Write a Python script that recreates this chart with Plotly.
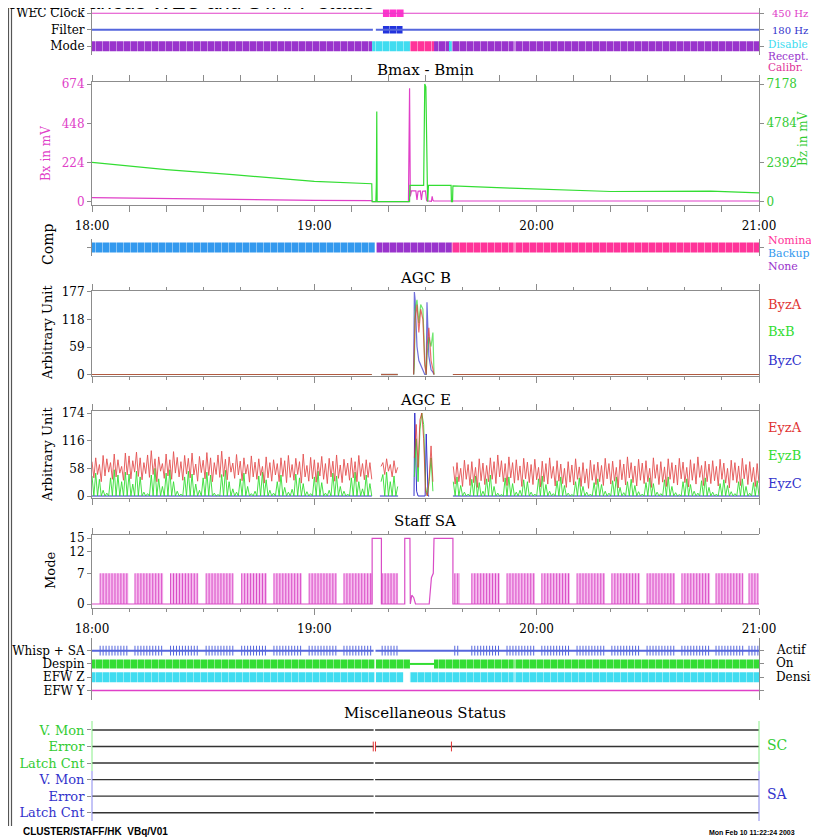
import plotly.graph_objects as go

W, H = 819, 840          # browser window
OFF = 8                  # page body margin
FW, FH = W - OFF, H - OFF
SERIF = "DejaVu Serif"
SANS = "Liberation Sans"

# ---------------- data (time in minutes after 18:00) ----------------
HOUR_TICKS = [0, 60, 120, 180]
HOUR_LABELS = ["18:00", "19:00", "20:00", "21:00"]

# WEC status
WEC_ROWS = ["Mode", "Filter", "WEC Clock"]
WEC_CLOCK_THIN = [(0, 180)]
WEC_CLOCK_450 = [(78.5, 84.2)]
FILTER_THIN = [(0, 75.8), (76.6, 180)]
FILTER_180 = [(78.5, 83.8)]
MODE_RECEPT = [(0, 75.6), (92.3, 96.6), (97.1, 113.8), (114.0, 180)]
MODE_DISABLE = [(75.6, 85.8), (96.6, 97.1)]
MODE_CALIBR = [(85.8, 92.3)]

# Bmax - Bmin
BX_T = [0, 20, 40, 60, 75.5, 75.7, 85.4, 85.7, 85.9, 86.2, 87.4, 87.7, 88.0, 88.6, 88.9, 89.2, 90.0, 90.3, 91.6, 91.8, 92.0, 92.2, 130, 180]
BX_V = [23, 17, 12, 8, 6, 0, 0, 650, 30, 62, 62, 10, 60, 62, 10, 60, 62, 5, 2, 30, 8, 4, 4, 4]
BZ_T = [0, 20, 38, 60, 75.5, 75.6, 76.6, 76.75, 76.85, 76.95, 85.7, 85.8, 89.5, 89.8, 90.1, 90.3, 90.5, 90.6, 90.8,
        96.9, 97.0, 97.3, 97.4, 113, 140, 167, 180]
BZ_V = [2395, 1960, 1650, 1240, 1095, 0, 0, 1200, 5500, 0, 0, 990, 990, 7178, 7000, 990, 990, 0, 990,
        990, 0, 0, 970, 823, 620, 640, 540]

# Comp
COMP_BACKUP = [(0, 76.3)]
COMP_NONE = [(76.8, 97.1)]
COMP_NOMINAL = [(97.1, 113.8), (114.0, 180)]

# AGC B
AGCB_T = [0, 75.5, 76.0, 78.0, 82.5, 83.0, 86.8, 87.0, 87.2, 87.7, 88.2, 88.7, 89.3, 89.8, 90.2, 90.4, 90.9, 91.5, 92.0, 92.3, 95.0, 97.4, 180]
BYZA = [0, 0, None, 0, 0, None, 0, 40, 120, 150, 90, 140, 118, 20, 0, 60, 100, 30, 10, 0, None, 0, 0]
BXB = [0, 0, None, 0, 0, None, 0, 20, 140, 160, 110, 150, 140, 30, 0, 40, 80, 60, 90, 0, None, 0, 0]
BYZC = [0, 0, None, 0, 0, None, 0, 177, 160, 60, 30, 20, 10, 0, 0, 155, 40, 10, 5, 0, None, 0, 0]

# AGC E (samples every 0.5 min)
EYZA = ([72, 38, 80, 45, 66, 30, 85, 42, 78, 50, 70, 35, 88, 40, 76, 48, 62, 33, 90, 44,
         84, 36, 74, 50, 92, 41, 80, 34, 70, 47, 86, 39, 95, 45, 78, 30, 82, 52, 68, 37,
         88, 42, 76, 35, 93, 48, 81, 40, 72, 33, 85, 46, 79, 38, 90, 44, 67, 31, 83, 49,
         75, 36, 91, 43, 80, 30, 70, 45, 86, 39, 94, 41, 77, 34, 82, 50, 69, 37, 87, 44,
         73, 32, 80, 46, 66, 29, 84, 40, 71, 35, 78, 43, 62, 27, 82, 38, 70, 31, 76, 44,
         68, 30, 80, 41, 74, 28, 85, 39, 66, 33, 79, 45, 72, 27, 88, 40, 64, 31, 81, 36,
         76, 29, 70, 42, 83, 35, 68, 26, 79, 40, 73, 31, 86, 37, 65, 28, 77, 43, 69, 33,
         80, 38, 72, 30, 85, 41, 68, 34, 76, 39, 70, 35]
        + [None] * 4 + [62]
        + [70, 45, 78, 52, 66, 40, 74, 48, 60, None, None]
        + [None] * 6 + [80, 150, 60, 160, 174, 120, 10, 0, 40, 105, 30]
        + [None] * 10
        + [62, 25, 70, 30, 58, 20, 75, 35, 66, 22, 72, 28, 60, 18, 78, 32, 69, 24, 64, 30,
           80, 35, 72, 26, 86, 40, 74, 30, 68, 22, 82, 38, 70, 27, 76, 33, 63, 20, 79, 36,
           71, 28, 66, 24, 77, 34, 60, 19, 73, 30, 68, 25, 80, 37, 62, 21, 74, 31, 67, 26,
           58, 18, 72, 29, 65, 23, 78, 35, 61, 20, 70, 27, 57, 16, 75, 33, 66, 24, 71, 30,
           64, 22, 79, 36, 68, 25, 73, 31, 60, 17, 76, 34, 67, 23, 82, 38, 70, 28, 63, 21,
           77, 33, 69, 26, 74, 30, 58, 18, 80, 37, 66, 24, 72, 29, 61, 20, 78, 35, 70, 27,
           65, 23, 79, 36, 71, 28, 60, 19, 76, 33, 68, 25, 82, 39, 64, 22, 73, 30, 67, 26,
           74, 32, 62, 21, 77, 35, 69, 27, 58, 17, 75, 33, 70, 28, 63, 22, 79, 36, 66, 24,
           72, 30, 60, 20, 68, 27])
EYZB = ([42, 0, 48, 0, 35, 0, 12, 0, 6, 0, 38, 0, 55, 0, 44, 0, 30, 0, 50, 0,
         46, 0, 25, 0, 52, 0, 40, 0, 8, 0, 5, 0, 44, 0, 58, 0, 36, 0, 20, 0,
         48, 0, 55, 0, 30, 0, 10, 0, 4, 0, 40, 0, 52, 0, 46, 0, 25, 0, 12, 0,
         38, 0, 50, 0, 44, 0, 6, 0, 3, 0, 45, 0, 54, 0, 30, 0, 15, 0, 8, 0,
         36, 0, 48, 0, 20, 0, 5, 0, 10, 0, 42, 0, 50, 0, 34, 0, 12, 0, 6, 0,
         30, 0, 44, 0, 18, 0, 8, 0, 14, 0, 46, 0, 38, 0, 26, 0, 9, 0, 5, 0,
         40, 0, 52, 0, 28, 0, 6, 0, 12, 0, 48, 0, 42, 0, 20, 0, 10, 0, 4, 0,
         38, 0, 50, 0, 30, 0, 15, 0, 44, 0, 26, 0]
        + [None] * 4 + [30]
        + [45, 0, 50, 0, 30, 0, 42, 0, 20, None, None]
        + [None] * 6 + [40, 120, 30, 140, 174, 150, 20, 0, 30, 80, 10]
        + [None] * 10
        + [30, 0, 40, 0, 22, 0, 8, 0, 4, 0, 35, 0, 42, 0, 28, 0, 10, 0, 36, 0,
           44, 0, 20, 0, 6, 0, 3, 0, 38, 0, 40, 0, 26, 0, 8, 0, 12, 0, 34, 0,
           30, 0, 8, 0, 4, 0, 36, 0, 42, 0, 24, 0, 10, 0, 5, 0, 32, 0, 40, 0,
           22, 0, 6, 0, 3, 0, 30, 0, 38, 0, 20, 0, 8, 0, 4, 0, 28, 0, 36, 0,
           24, 0, 10, 0, 6, 0, 32, 0, 40, 0, 18, 0, 7, 0, 30, 0, 35, 0, 22, 0,
           9, 0, 4, 0, 28, 0, 38, 0, 26, 0, 8, 0, 5, 0, 34, 0, 40, 0, 20, 0,
           7, 0, 3, 0, 30, 0, 36, 0, 24, 0, 10, 0, 6, 0, 32, 0, 38, 0, 18, 0,
           8, 0, 4, 0, 26, 0, 34, 0, 22, 0, 9, 0, 5, 0, 30, 0, 36, 0, 20, 0,
           6, 0, 28, 0, 32, 0])
EYZ_STEP = 0.5
EYZC_T = [0, 75.5, 76, 77.7, 82.6, 83, 86.9, 87.1, 87.6, 88.0, 89.9, 90.2, 90.7, 91, 92.8, 97.4, 180]
EYZC_V = [0, 0, None, 0, 0, None, 0, 174, 10, 0, 0, 130, 0, 0, None, 0, 0]

# Staff SA mode
SA_T = [0, 75.6, 75.6, 78.1, 78.1, 84.4, 84.4, 85.8, 85.9, 86.3, 86.8, 87.3, 87.7, 91.0, 91.6, 92.1, 92.3, 97.4, 97.4, 180]
SA_V = [0, 0, 15, 15, 0, 0, 15, 15, 0, 2, 1.5, 0, 0, 0, 6, 7, 15, 15, 0, 0]
SA_BURSTS = [(2.2, 9.8), (11.6, 19.2), (21.2, 28.7), (30.8, 38.1), (40.4, 47.2), (49.1, 56.6),
             (58.6, 66.0), (68.0, 75.6), (78.3, 82.6), (97.9, 99.3), (102.5, 110.1), (112.0, 119.5),
             (121.4, 129.0), (130.9, 138.4), (140.3, 147.9), (149.8, 157.3), (159.2, 166.8),
             (168.4, 175.7), (177.3, 179.8)]
SA_BURST_LEVEL = 7

# Status rows
STATUS_ROWS = ["EFW Y", "EFW Z", "Despin", "Whisp + SA"]
WHISP_LINE = [(0, 76.0), (76.5, 180)]
DESPIN_ON = [(0, 76.2), (76.6, 85.8), (92.3, 113.8), (114.0, 180)]
DESPIN_OFF = [(85.8, 92.3)]
EFWZ_DENSITY = [(0, 76.2), (76.6, 84.0), (85.8, 113.8), (114.0, 180)]
EFWY_LINE = [(0, 180)]

# Miscellaneous status
MISC_ROWS = ["Latch Cnt", "Error", "V. Mon", "Latch Cnt", "Error", "V. Mon"]
MISC_LINES = [(0, 76.0), (76.4, 180)]
SC_ERROR_T = [75.9, 76.5, 97.0]

# ---------------- colours ----------------
MAGENTA = "#e040c8"
PINK = "#ff3399"
PURPLE = "#9933cc"
CYAN = "#40dcf0"
SKY = "#3399ee"
GREEN = "#33dd33"
RED = "#e03333"
BLUE = "#3333cc"
FBLUE = "#5566dd"
AXC = "#8c8c8c"

def fx(p):
    return (p - OFF) / FW

def fy(p):
    return 1 - (p - OFF) / FH

def yd(top, bottom):
    return [max(0.0, fy(bottom)), min(1.0, fy(top))]

XDOM = [fx(92), fx(759)]

fig = go.Figure()

def seg_xy(segs, yval):
    xs, ys = [], []
    for s, e in segs:
        xs += [s, e, None]
        ys += [yval, yval, None]
    return xs, ys

def add_line_segs(segs, yval, color, width, xa, ya):
    xs, ys = seg_xy(segs, yval)
    fig.add_trace(go.Scatter(x=xs, y=ys, mode="lines", line=dict(color=color, width=width),
                             xaxis=xa, yaxis=ya, hoverinfo="skip", showlegend=False))

def add_bars(segs, yval, color, thick, xa, ya):
    fig.add_trace(go.Bar(
        y=[yval] * len(segs), x=[e - s for s, e in segs], base=[s for s, e in segs],
        orientation="h", width=[thick] * len(segs),
        marker=dict(color=color, line_width=0,
                    pattern=dict(shape="|", fgcolor="white", fillmode="overlay", size=7, solidity=0.12)),
        xaxis=xa, yaxis=ya, hoverinfo="skip", showlegend=False))

# --- WEC rows (x / y) ---
add_line_segs(WEC_CLOCK_THIN, 3, MAGENTA, 1.2, "x", "y")
add_bars(WEC_CLOCK_450, 3, "#ff33cc", 0.45, "x", "y")
add_line_segs(FILTER_THIN, 2, FBLUE, 2, "x", "y")
add_bars(FILTER_180, 2, "#2233dd", 0.45, "x", "y")
add_bars(MODE_RECEPT, 1, PURPLE, 0.6, "x", "y")
add_bars(MODE_DISABLE, 1, CYAN, 0.6, "x", "y")
add_bars(MODE_CALIBR, 1, PINK, 0.6, "x", "y")

# --- Bmax - Bmin (x2 / y2, y3) ---
fig.add_trace(go.Scatter(x=BZ_T, y=BZ_V, mode="lines", line=dict(color=GREEN, width=1.2),
                         xaxis="x2", yaxis="y3", hoverinfo="skip", showlegend=False))
fig.add_trace(go.Scatter(x=BX_T, y=BX_V, mode="lines", line=dict(color=MAGENTA, width=1.2),
                         xaxis="x2", yaxis="y2", hoverinfo="skip", showlegend=False))

# --- Comp (x4 / y4) ---
add_bars(COMP_BACKUP, 1, SKY, 0.6, "x4", "y4")
add_bars(COMP_NONE, 1, PURPLE, 0.6, "x4", "y4")
add_bars(COMP_NOMINAL, 1, PINK, 0.6, "x4", "y4")

# --- AGC B (x5 / y5) ---
for vals, col in [(BYZC, BLUE), (BXB, GREEN), (BYZA, RED)]:
    fig.add_trace(go.Scatter(x=AGCB_T, y=vals, mode="lines", line=dict(color=col, width=1.2), opacity=0.7,
                             xaxis="x5", yaxis="y5", hoverinfo="skip", showlegend=False, connectgaps=False))

# --- AGC E (x6 / y6) ---
eyz_t = [i * EYZ_STEP for i in range(len(EYZA))]
fig.add_trace(go.Scatter(x=EYZC_T, y=EYZC_V, mode="lines", line=dict(color=BLUE, width=1),
                         xaxis="x6", yaxis="y6", hoverinfo="skip", showlegend=False))
fig.add_trace(go.Scatter(x=eyz_t, y=EYZB, mode="lines", line=dict(color=GREEN, width=0.9),
                         xaxis="x6", yaxis="y6", hoverinfo="skip", showlegend=False))
fig.add_trace(go.Scatter(x=eyz_t, y=EYZA, mode="lines", line=dict(color=RED, width=0.9), opacity=0.85,
                         xaxis="x6", yaxis="y6", hoverinfo="skip", showlegend=False))

# --- Staff SA (x7 / y7, y8) ---
px_, py_ = [], []
lx, ly = [], []
tick_t = []
for s, e in SA_BURSTS:
    px_ += [s, s, e, e, None]
    py_ += [0, SA_BURST_LEVEL, SA_BURST_LEVEL, 0, None]
    t = s
    while t <= e + 1e-9:
        lx += [t, t, None]
        ly += [0, SA_BURST_LEVEL, None]
        tick_t.append(t)
        t += 0.8
fig.add_trace(go.Scatter(x=px_, y=py_, mode="lines", fill="toself", fillcolor="#f6bdef",
                         line=dict(width=0, color="#f6bdef"),
                         xaxis="x7", yaxis="y7", hoverinfo="skip", showlegend=False))
fig.add_trace(go.Scatter(x=lx, y=ly, mode="lines", line=dict(color="#d94cc6", width=1),
                         xaxis="x7", yaxis="y7", hoverinfo="skip", showlegend=False))
fig.add_trace(go.Scatter(x=SA_T, y=SA_V, mode="lines", line=dict(color="#d94cc6", width=1.2),
                         xaxis="x7", yaxis="y7", hoverinfo="skip", showlegend=False))

# --- Status rows (x9 / y9) ---
add_line_segs(WHISP_LINE, 4, FBLUE, 2, "x9", "y9")
fig.add_trace(go.Scatter(x=tick_t, y=[4] * len(tick_t), mode="markers",
                         marker=dict(symbol="line-ns", size=7, line=dict(color=FBLUE, width=1)),
                         xaxis="x9", yaxis="y9", hoverinfo="skip", showlegend=False))
add_line_segs(DESPIN_OFF, 3, GREEN, 2, "x9", "y9")
add_bars(DESPIN_ON, 3, GREEN, 0.68, "x9", "y9")
add_bars(EFWZ_DENSITY, 2, CYAN, 0.75, "x9", "y9")
add_line_segs(EFWY_LINE, 1, MAGENTA, 1.5, "x9", "y9")

# --- Misc (x10 / y10) ---
for r in range(1, 7):
    add_line_segs(MISC_LINES, r, "#333333", 1.4, "x10", "y10")
fig.add_trace(go.Scatter(x=SC_ERROR_T, y=[5] * len(SC_ERROR_T), mode="markers",
                         marker=dict(symbol="line-ns", size=7, line=dict(color=RED, width=1)),
                         xaxis="x10", yaxis="y10", hoverinfo="skip", showlegend=False))

# ---------------- axes ----------------
tickfont = dict(family=SERIF, size=12, color="black")
minor = dict(tickmode="linear", tick0=0, dtick=10, ticks="outside", ticklen=3, tickcolor=AXC)

def hidden_x(anchor):
    return dict(domain=XDOM, range=[0, 180], visible=False, anchor=anchor, automargin=False)

def time_x(anchor, labels):
    return dict(domain=XDOM, range=[0, 180], anchor=anchor, showline=True, linecolor=AXC, mirror="allticks",
                ticks="outside", ticklen=6, tickcolor=AXC, tickmode="array", tickvals=HOUR_TICKS,
                ticktext=HOUR_LABELS, showticklabels=labels, tickfont=tickfont, ticklabelstandoff=4,
                minor=minor, showgrid=False, zeroline=False, automargin=False, ticklabeloverflow="allow")

def row_y(dom, rng, vals, texts, anchor, size=12):
    return dict(domain=dom, range=rng, anchor=anchor, tickmode="array", tickvals=vals, ticktext=texts,
                showline=True, linecolor=AXC, mirror="ticks", ticks="outside", ticklen=4, tickcolor=AXC,
                tickfont=dict(family=SERIF, size=size, color="black"), showgrid=False, zeroline=False,
                fixedrange=True, automargin=False, ticklabeloverflow="allow")

def val_y(dom, rng, vals, anchor, color="black", side="left", overlaying=None):
    d = dict(domain=dom, range=rng, anchor=anchor, tickmode="array", tickvals=vals,
             showline=True, linecolor=AXC, ticks="outside", ticklen=4, tickcolor=AXC, side=side,
             tickfont=dict(family=SERIF, size=12, color=color), showgrid=False, zeroline=False,
             automargin=False, ticklabeloverflow="allow")
    if overlaying:
        d["overlaying"] = overlaying
    return d

fig.update_layout(
    width=FW, height=FH, margin=dict(l=0, r=0, t=0, b=0, autoexpand=False),
    paper_bgcolor="white", plot_bgcolor="white", showlegend=False, barmode="overlay",
    xaxis=hidden_x("y"),
    yaxis=row_y(yd(8, 54.5), [0.5, 3.318], [1, 2, 3], WEC_ROWS, "x"),
    xaxis2=time_x("y2", True),
    yaxis2=val_y(yd(82, 205), [-19, 686], [0, 224, 448, 674], "x2", color=MAGENTA),
    yaxis3=val_y(yd(82, 205), [-202, 7300], [0, 2392, 4784, 7178], "x2", color="#33cc33", side="right",
                 overlaying="y2"),
    xaxis4=hidden_x("y4"),
    yaxis4=row_y(yd(239, 256), [0.5, 1.5], [1], [""], "x4"),
    xaxis5=time_x("y5", False),
    yaxis5=dict(val_y(yd(291, 376), [-3.2, 179.1], [0, 59, 118, 177], "x5"), mirror=True),
    xaxis6=time_x("y6", False),
    yaxis6=dict(val_y(yd(411, 498), [-4.2, 178.2], [0, 58, 116, 174], "x6"), mirror=True),
    xaxis7=time_x("y7", True),
    yaxis7=val_y(yd(535, 608), [-0.91, 15.75], [0, 7, 12, 15], "x7"),
    yaxis8=val_y(yd(535, 608), [-0.91, 15.75], [0, 7, 12, 15], "x7", side="right", overlaying="y7"),
    xaxis9=hidden_x("y9"),
    yaxis9=row_y(yd(638, 700), [0.29, 4.95], [1, 2, 3, 4], STATUS_ROWS, "x9", size=12),
    xaxis10=hidden_x("y10"),
    yaxis10=dict(row_y(yd(721, 821), [0.5, 6.54], [1, 2, 3, 4, 5, 6],
                       ['<span style="color:%s">%s</span>' % (BLUE if i < 3 else "#33cc33", t)
                        for i, t in enumerate(MISC_ROWS)], "x10", size=13),
                 showline=False, mirror=False),
)

# ---------------- annotations ----------------
def ann(text, x, y, size=12, color="black", xanchor="left", angle=0, family=SERIF, yanchor="middle"):
    return dict(text=text, x=fx(x), y=fy(y), xref="paper", yref="paper", showarrow=False,
                font=dict(family=family, size=size, color=color), xanchor=xanchor, yanchor=yanchor,
                textangle=angle, borderpad=0)

anns = [
    ann("and 10 various WEC and STAFF status", 7, 14, size=21, family=SANS, yanchor="bottom"),
    ann("450 Hz", 771, 13, size=10, color=MAGENTA),
    ann("180 Hz", 771, 30, size=10, color=BLUE),
    ann("Disable", 767, 44, size=10.5, color=CYAN),
    ann("Recept.", 767, 56, size=10.5, color=PURPLE),
    ann("Calibr.", 767, 67, size=10.5, color="#e03399"),
    ann("Bmax - Bmin", 425, 70, size=15, xanchor="center"),
    ann("Bx in mV", 46, 154, size=12, color=MAGENTA, xanchor="center", angle=-90),
    ann("Bz in mV", 803, 139, size=12, color="#33cc33", xanchor="center", angle=-90),
    ann("Comp", 48, 245, size=14, xanchor="center", angle=-90),
    ann("Nomina", 767, 240, size=11, color=PINK),
    ann("Backup", 767, 253, size=11, color=SKY),
    ann("None", 767, 266, size=11, color=PURPLE),
    ann("AGC B", 425, 278, size=15, xanchor="center"),
    ann("Arbitrary Unit", 47, 333, size=13, xanchor="center", angle=-90),
    ann("ByzA", 767, 304, size=13, color=RED),
    ann("BxB", 767, 332, size=13, color=GREEN),
    ann("ByzC", 767, 360, size=13, color=BLUE),
    ann("AGC E", 425, 400, size=15, xanchor="center"),
    ann("Arbitrary Unit", 47, 455, size=13, xanchor="center", angle=-90),
    ann("EyzA", 767, 427, size=13, color=RED),
    ann("EyzB", 767, 455, size=13, color=GREEN),
    ann("EyzC", 767, 483, size=13, color=BLUE),
    ann("Staff SA", 425, 521, size=15, xanchor="center"),
    ann("Mode", 50, 571, size=13, xanchor="center", angle=-90),
    ann("Actif", 775, 650, size=12),
    ann("On", 775, 663, size=12),
    ann("Density", 775, 677, size=12),
    ann("Miscellaneous Status", 425, 713, size=15, xanchor="center"),
    ann("SC", 766, 745, size=14, color="#33cc33"),
    ann("SA", 766, 794, size=14, color=BLUE),
    ann("<b>CLUSTER/STAFF/HK  VBq/V01</b>", 22, 831, size=10, family=SANS),
    ann("<b>Mon Feb 10 11:22:24 2003</b>", 796, 832, size=7, family=SANS, xanchor="right"),
]
fig.update_layout(annotations=anns)

# ---------------- frame shapes ----------------
shapes = []
for xx in (8.5, 11.5):
    shapes.append(dict(type="line", xref="paper", yref="paper", x0=fx(xx), x1=fx(xx), y0=fy(826), y1=1,
                       line=dict(color="#555555", width=1.2)))
for xx in (92, 759):
    shapes.append(dict(type="line", xref="paper", yref="paper", x0=fx(xx), x1=fx(xx),
                       y0=fy(771), y1=fy(721), line=dict(color="#88ee88", width=1)))
    shapes.append(dict(type="line", xref="paper", yref="paper", x0=fx(xx), x1=fx(xx),
                       y0=fy(821), y1=fy(771), line=dict(color="#8888ee", width=1)))
fig.update_layout(shapes=shapes)

fig.write_html("out.html")
